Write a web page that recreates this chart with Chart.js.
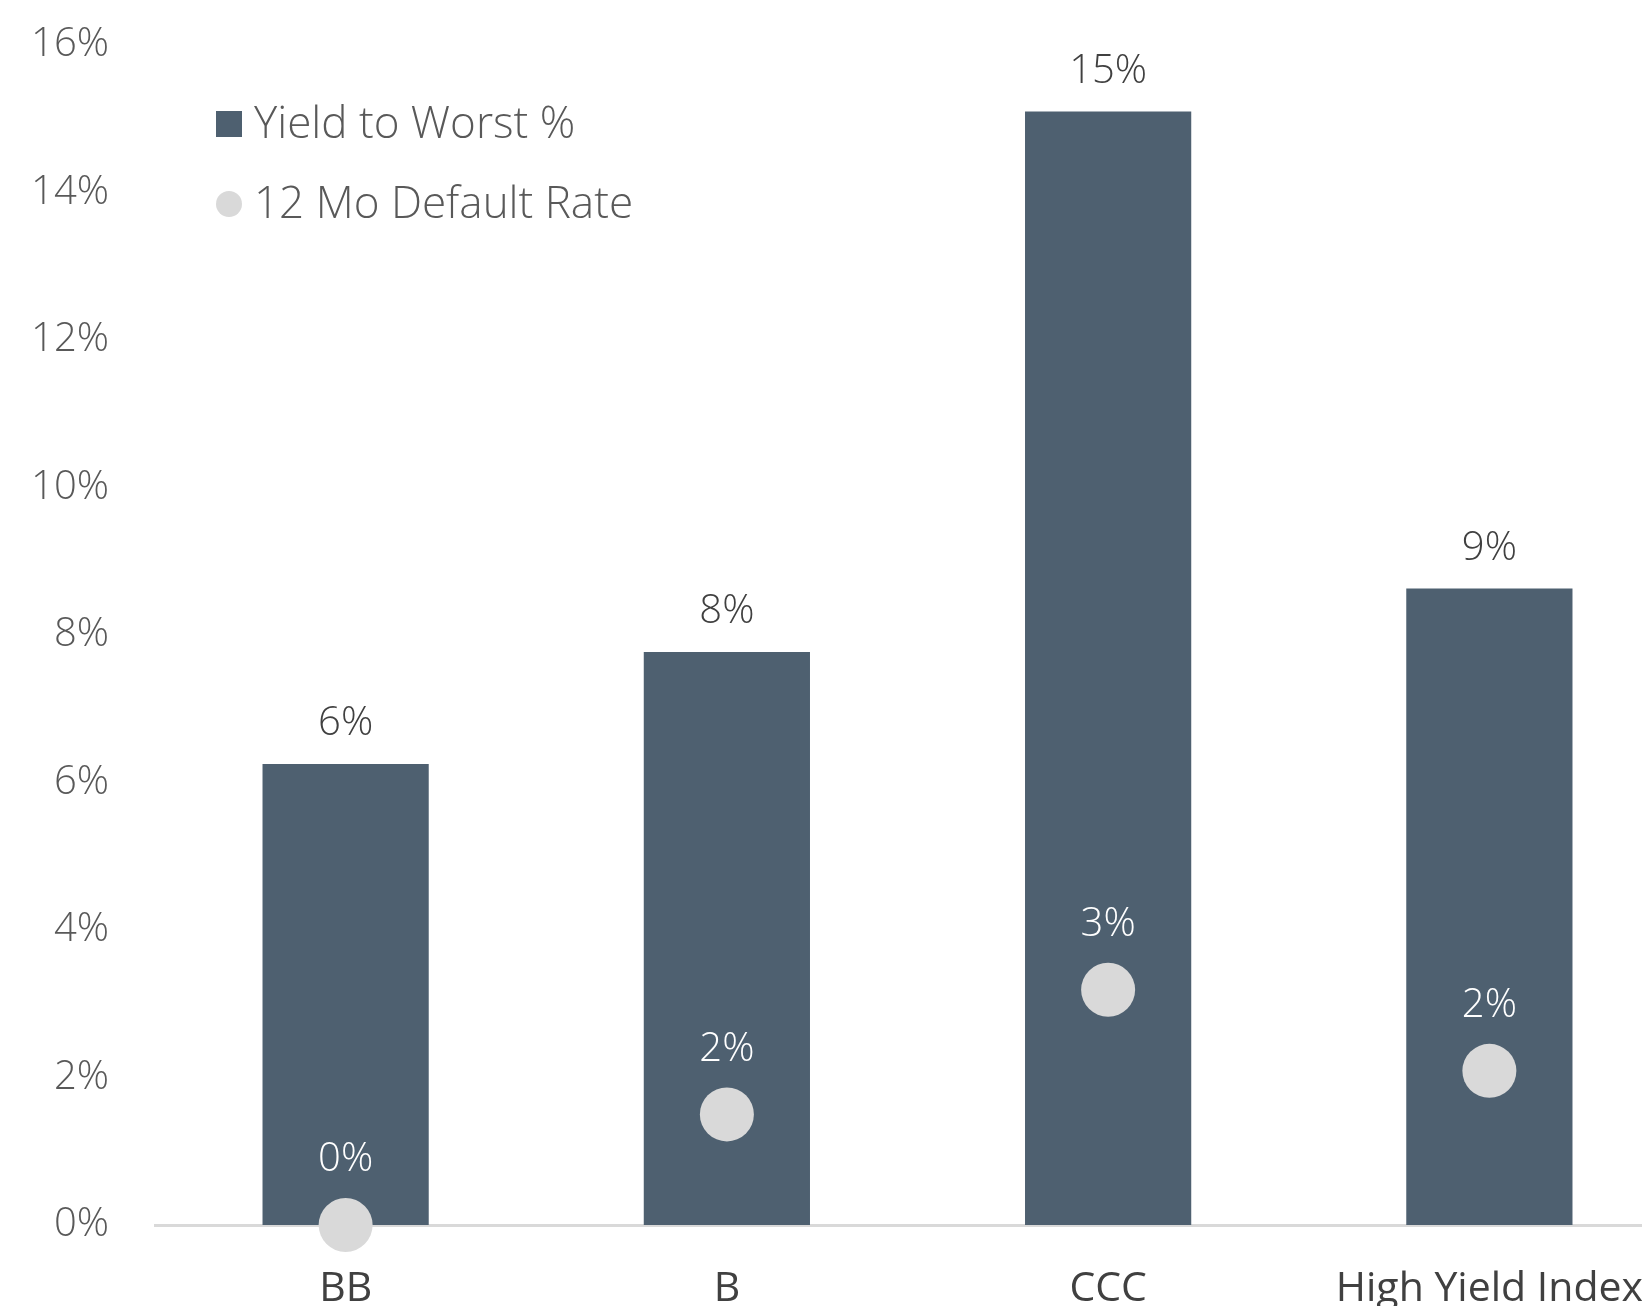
<!DOCTYPE html>
<html>
<head>
<meta charset="utf-8">
<script src="https://cdn.jsdelivr.net/npm/chart.js@4/dist/chart.umd.min.js"></script>
<style>
  html, body { margin: 0; padding: 0; background: #fff; width: 1642px; height: 1306px; overflow: hidden; }
  #wrap { position: absolute; left: 0; top: 0; width: 1680px; height: 1345px; }
</style>
</head>
<body>
<div id="wrap"><canvas id="myChart" width="1680" height="1345" style="width:1680px;height:1345px"></canvas></div>
<script>
var categories = ['BB', 'B', 'CCC', 'High Yield Index'];
var yieldToWorst = [6.25, 7.77, 15.1, 8.63];
var defaultRate = [0, 1.5, 3.19, 2.09];
var yTicks = [0, 2, 4, 6, 8, 10, 12, 14, 16];

var barColor = '#4e6070';
var dotColor = '#d9d9d9';
var fontFamily = '"Open Sans", "Noto Sans", sans-serif';

function pct(v) {
  return Math.round(v) + '%';
}

// value labels above bars (dark) and above dots (white)
var valueLabels = {
  id: 'valueLabels',
  afterDatasetsDraw: function (chart) {
    var ctx = chart.ctx;
    ctx.save();
    ctx.font = '300 40px ' + fontFamily;
    ctx.textAlign = 'center';
    ctx.textBaseline = 'middle';
    chart.data.datasets.forEach(function (ds, i) {
      var meta = chart.getDatasetMeta(i);
      meta.data.forEach(function (el, j) {
        if (ds.type === 'line') {
          ctx.fillStyle = '#ffffff';
          ctx.fillText(pct(ds.data[j]), el.x, el.y - 65);
        } else {
          ctx.fillStyle = '#404040';
          ctx.fillText(pct(ds.data[j]), el.x, el.y - 40);
        }
      });
    });
    ctx.restore();
  }
};

// legend sitting inside the plot, top left
var insideLegend = {
  id: 'insideLegend',
  afterDraw: function (chart) {
    var ctx = chart.ctx;
    var x = 216, rows = [124, 204];
    ctx.save();
    ctx.font = '300 44px ' + fontFamily;
    ctx.textAlign = 'left';
    ctx.textBaseline = 'middle';
    chart.data.datasets.forEach(function (ds, i) {
      var y = rows[i];
      ctx.fillStyle = ds.type === 'line' ? ds.pointBackgroundColor : ds.backgroundColor;
      if (ds.type === 'line') {
        ctx.beginPath();
        ctx.arc(x + 13, y, 13, 0, Math.PI * 2);
        ctx.fill();
      } else {
        ctx.fillRect(x, y - 13, 26, 26);
      }
      ctx.fillStyle = '#595959';
      ctx.fillText(ds.label, x + 38, y + 1);
    });
    ctx.restore();
  }
};

// keep the plot area exactly where the layout padding puts it
function noEdgePadding(scale) {
  scale.paddingTop = 0;
  scale.paddingBottom = 0;
  scale.paddingLeft = 0;
  scale.paddingRight = 0;
}

var ctx = document.getElementById('myChart').getContext('2d');
var myChart = new Chart(ctx, {
  type: 'bar',
  data: {
    labels: categories,
    datasets: [{
      label: 'Yield to Worst %',
      data: yieldToWorst,
      backgroundColor: barColor,
      categoryPercentage: 1,
      barPercentage: 0.436,
      order: 2
    }, {
      type: 'line',
      label: '12 Mo Default Rate',
      data: defaultRate,
      showLine: false,
      pointStyle: 'circle',
      pointRadius: 27,
      pointHoverRadius: 27,
      pointBorderWidth: 0,
      pointBackgroundColor: dotColor,
      borderColor: dotColor,
      clip: false,
      order: 1
    }]
  },
  options: {
    responsive: false,
    animation: false,
    layout: { autoPadding: false, padding: { top: 45, left: 0, right: 0, bottom: 0 } },
    plugins: {
      legend: { display: false },
      tooltip: { enabled: false }
    },
    scales: {
      x: {
        offset: true,
        grid: { display: false, drawTicks: false },
        border: { display: true, color: '#d9d9d9', width: 3 },
        ticks: {
          color: '#404040',
          padding: 40,
          font: { family: fontFamily, size: 41, weight: 'normal' }
        },
        afterFit: function (scale) {
          scale.height = 120;
          noEdgePadding(scale);
        }
      },
      y: {
        min: 0,
        max: 16,
        afterBuildTicks: function (scale) {
          scale.ticks = yTicks.map(function (v) { return { value: v }; });
        },
        grid: { display: false, drawTicks: false },
        border: { display: false },
        ticks: {
          color: '#595959',
          padding: 46,
          font: { family: fontFamily, size: 40, weight: '300' },
          callback: function (v) { return v + '%'; }
        },
        afterFit: function (scale) {
          scale.width = 155;
          noEdgePadding(scale);
        }
      }
    }
  },
  plugins: [valueLabels, insideLegend]
});
</script>
</body>
</html>
